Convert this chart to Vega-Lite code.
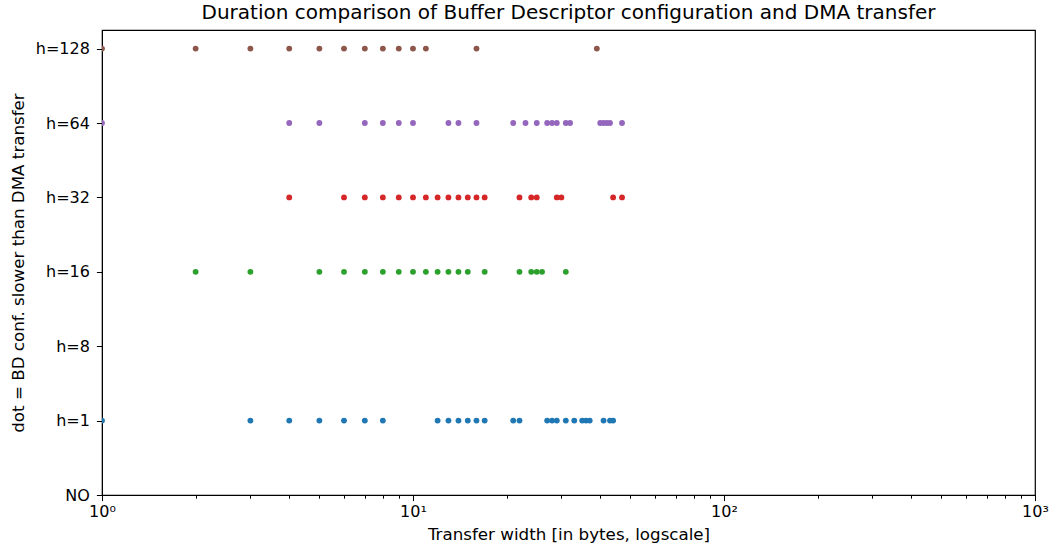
{
  "$schema": "https://vega.github.io/schema/vega-lite/v6.json",
  "width": 933,
  "height": 465,
  "autosize": {"type": "none"},
  "padding": {"left": 102, "top": 30, "right": 16, "bottom": 59},
  "title": {"text": "Duration comparison of Buffer Descriptor configuration and DMA transfer", "font": "DejaVu Sans", "fontSize": 20, "fontWeight": "normal", "color": "black", "offset": 7},
  "config": {
    "view": {"stroke": "black", "strokeWidth": 1.2},
    "axis": {"labelFont": "DejaVu Sans", "titleFont": "DejaVu Sans", "labelFontSize": 16, "titleFontSize": 16.7, "titleFontWeight": "normal", "labelColor": "black", "titleColor": "black", "domainColor": "black", "tickColor": "black", "grid": false}
  },
  "data": {"values": [
    {"config":"h=1","level":1,"width":1},{"config":"h=1","level":1,"width":3},{"config":"h=1","level":1,"width":4},{"config":"h=1","level":1,"width":5},{"config":"h=1","level":1,"width":6},{"config":"h=1","level":1,"width":7},{"config":"h=1","level":1,"width":8},{"config":"h=1","level":1,"width":12},{"config":"h=1","level":1,"width":13},{"config":"h=1","level":1,"width":14},{"config":"h=1","level":1,"width":15},{"config":"h=1","level":1,"width":16},{"config":"h=1","level":1,"width":17},{"config":"h=1","level":1,"width":21},{"config":"h=1","level":1,"width":22},{"config":"h=1","level":1,"width":27},{"config":"h=1","level":1,"width":28},{"config":"h=1","level":1,"width":29},{"config":"h=1","level":1,"width":31},{"config":"h=1","level":1,"width":33},{"config":"h=1","level":1,"width":35},{"config":"h=1","level":1,"width":36},{"config":"h=1","level":1,"width":37},{"config":"h=1","level":1,"width":41},{"config":"h=1","level":1,"width":43},{"config":"h=1","level":1,"width":44},
    {"config":"h=16","level":3,"width":2},{"config":"h=16","level":3,"width":3},{"config":"h=16","level":3,"width":5},{"config":"h=16","level":3,"width":6},{"config":"h=16","level":3,"width":7},{"config":"h=16","level":3,"width":8},{"config":"h=16","level":3,"width":9},{"config":"h=16","level":3,"width":10},{"config":"h=16","level":3,"width":11},{"config":"h=16","level":3,"width":12},{"config":"h=16","level":3,"width":13},{"config":"h=16","level":3,"width":14},{"config":"h=16","level":3,"width":15},{"config":"h=16","level":3,"width":17},{"config":"h=16","level":3,"width":22},{"config":"h=16","level":3,"width":24},{"config":"h=16","level":3,"width":25},{"config":"h=16","level":3,"width":26},{"config":"h=16","level":3,"width":31},
    {"config":"h=32","level":4,"width":4},{"config":"h=32","level":4,"width":6},{"config":"h=32","level":4,"width":7},{"config":"h=32","level":4,"width":8},{"config":"h=32","level":4,"width":9},{"config":"h=32","level":4,"width":10},{"config":"h=32","level":4,"width":11},{"config":"h=32","level":4,"width":12},{"config":"h=32","level":4,"width":13},{"config":"h=32","level":4,"width":14},{"config":"h=32","level":4,"width":15},{"config":"h=32","level":4,"width":16},{"config":"h=32","level":4,"width":17},{"config":"h=32","level":4,"width":22},{"config":"h=32","level":4,"width":24},{"config":"h=32","level":4,"width":25},{"config":"h=32","level":4,"width":29},{"config":"h=32","level":4,"width":30},{"config":"h=32","level":4,"width":44},{"config":"h=32","level":4,"width":47},
    {"config":"h=64","level":5,"width":1},{"config":"h=64","level":5,"width":4},{"config":"h=64","level":5,"width":5},{"config":"h=64","level":5,"width":7},{"config":"h=64","level":5,"width":8},{"config":"h=64","level":5,"width":9},{"config":"h=64","level":5,"width":10},{"config":"h=64","level":5,"width":13},{"config":"h=64","level":5,"width":14},{"config":"h=64","level":5,"width":16},{"config":"h=64","level":5,"width":21},{"config":"h=64","level":5,"width":23},{"config":"h=64","level":5,"width":25},{"config":"h=64","level":5,"width":27},{"config":"h=64","level":5,"width":28},{"config":"h=64","level":5,"width":29},{"config":"h=64","level":5,"width":31},{"config":"h=64","level":5,"width":32},{"config":"h=64","level":5,"width":40},{"config":"h=64","level":5,"width":41},{"config":"h=64","level":5,"width":42},{"config":"h=64","level":5,"width":43},{"config":"h=64","level":5,"width":47},
    {"config":"h=128","level":6,"width":1},{"config":"h=128","level":6,"width":2},{"config":"h=128","level":6,"width":3},{"config":"h=128","level":6,"width":4},{"config":"h=128","level":6,"width":5},{"config":"h=128","level":6,"width":6},{"config":"h=128","level":6,"width":7},{"config":"h=128","level":6,"width":8},{"config":"h=128","level":6,"width":9},{"config":"h=128","level":6,"width":10},{"config":"h=128","level":6,"width":11},{"config":"h=128","level":6,"width":16},{"config":"h=128","level":6,"width":39}
  ]},
  "mark": {"type": "circle", "size": 34, "opacity": 1, "clip": true},
  "encoding": {
    "x": {
      "field": "width", "type": "quantitative",
      "scale": {"type": "log", "domain": [1, 1000], "nice": false},
      "axis": {
        "title": "Transfer width [in bytes, logscale]",
        "values": [1,2,3,4,5,6,7,8,9,10,20,30,40,50,60,70,80,90,100,200,300,400,500,600,700,800,900,1000],
        "labelExpr": "datum.value == 1 ? '10⁰' : datum.value == 10 ? '10¹' : datum.value == 100 ? '10²' : datum.value == 1000 ? '10³' : ''",
        "labelOverlap": false,
        "labelFlush": false,
        "tickSize": {"condition": {"test": "indexof([1,10,100,1000], datum.value) >= 0", "value": 5.6}, "value": 3.2},
        "labelPadding": 3,
        "titlePadding": 7
      }
    },
    "y": {
      "field": "level", "type": "quantitative",
      "scale": {"domain": [0, 6.25], "nice": false, "zero": false},
      "axis": {
        "title": "dot = BD conf. slower than DMA transfer",
        "values": [0,1,2,3,4,5,6],
        "labelExpr": "['NO','h=1','h=8','h=16','h=32','h=64','h=128'][datum.value]",
        "tickSize": 5.6,
        "labelPadding": 7,
        "titlePadding": 8,
        "labelFlush": false
      }
    },
    "color": {
      "field": "config", "type": "nominal",
      "scale": {"domain": ["h=1","h=8","h=16","h=32","h=64","h=128"], "range": ["#1f77b4","#ff7f0e","#2ca02c","#d62728","#9467bd","#8c564b"]},
      "legend": null
    }
  }
}
